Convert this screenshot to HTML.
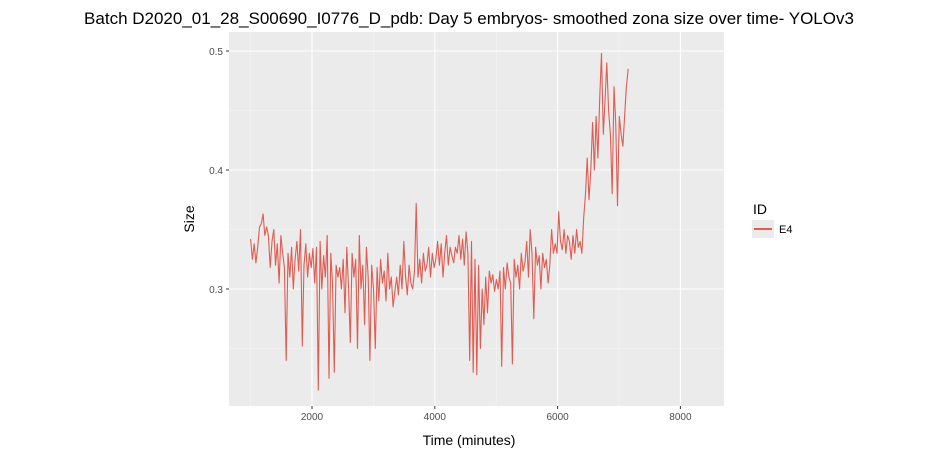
<!DOCTYPE html>
<html><head><meta charset="utf-8"><style>
body{margin:0;background:#fff;font-family:"Liberation Sans","DejaVu Sans",sans-serif;}
</style></head><body>
<svg id="chart" width="938" height="457" xmlns="http://www.w3.org/2000/svg">
<text x="469" y="24" font-size="17" text-anchor="middle" fill="#000">Batch D2020_01_28_S00690_I0776_D_pdb: Day 5 embryos- smoothed zona size over time- YOLOv3</text>
<rect x="229" y="32" width="495" height="374" fill="#ebebeb"/>
<g id="grid"></g>
<g id="series"></g>
<g id="axes"></g>
<text x="469" y="445" font-size="14" text-anchor="middle">Time (minutes)</text>
<text x="194" y="219" font-size="14" text-anchor="middle" transform="rotate(-90 194 219)">Size</text>
<text x="753" y="214" font-size="14">ID</text>
<g>
<rect x="752" y="220" width="22" height="18" fill="#ebebeb"/>
<line x1="754" y1="229" x2="772" y2="229" stroke="#e15b50" stroke-width="2"/>
<text x="779" y="233" font-size="11">E4</text>
</g>
</svg>
<script>
const xTicks=[2000,4000,6000,8000];
const yTicks=[0.3,0.4,0.5];
const tStart=1000, tEnd=7150;
const sizes=[0.342,0.325,0.338,0.322,0.335,0.352,0.355,0.363,0.345,0.352,0.345,0.318,0.34,0.35,0.32,0.338,0.305,0.345,0.33,0.318,0.24,0.33,0.31,0.335,0.3,0.325,0.34,0.315,0.35,0.252,0.32,0.338,0.31,0.33,0.318,0.334,0.305,0.335,0.215,0.34,0.3,0.328,0.31,0.345,0.225,0.33,0.305,0.23,0.32,0.31,0.318,0.3,0.325,0.28,0.335,0.3,0.255,0.33,0.31,0.325,0.25,0.345,0.3,0.32,0.27,0.335,0.31,0.24,0.32,0.3,0.25,0.318,0.29,0.325,0.305,0.315,0.29,0.33,0.3,0.31,0.285,0.298,0.31,0.295,0.32,0.3,0.34,0.31,0.295,0.32,0.305,0.3,0.315,0.372,0.31,0.325,0.305,0.33,0.315,0.32,0.335,0.31,0.33,0.318,0.325,0.34,0.32,0.338,0.31,0.33,0.345,0.32,0.335,0.328,0.322,0.335,0.33,0.345,0.325,0.342,0.32,0.348,0.33,0.24,0.34,0.23,0.325,0.228,0.32,0.25,0.3,0.27,0.31,0.28,0.315,0.305,0.312,0.298,0.308,0.3,0.315,0.235,0.318,0.3,0.322,0.31,0.305,0.237,0.325,0.31,0.32,0.3,0.33,0.315,0.322,0.34,0.31,0.35,0.33,0.275,0.335,0.32,0.328,0.3,0.33,0.318,0.325,0.305,0.32,0.35,0.33,0.338,0.33,0.365,0.34,0.333,0.35,0.33,0.345,0.34,0.325,0.345,0.33,0.35,0.335,0.34,0.33,0.36,0.38,0.41,0.375,0.4,0.44,0.4,0.445,0.41,0.46,0.498,0.43,0.46,0.49,0.45,0.43,0.38,0.47,0.44,0.37,0.445,0.43,0.42,0.445,0.47,0.485];
const X0=229,X1=724,Y0=32,Y1=406;
function sx(t){return 312+(t-2000)*0.0614;}
function sy(v){return 289-(v-0.3)*1190;}
const ns="http://www.w3.org/2000/svg";
const grid=document.getElementById('grid'),axes=document.getElementById('axes'),ser=document.getElementById('series');
function mk(tag,attrs,parent){const e=document.createElementNS(ns,tag);for(const k in attrs)e.setAttribute(k,attrs[k]);parent.appendChild(e);return e;}
for(let i=0;i<xTicks.length;i++){const m=xTicks[i]-1000;if(sx(m)>X0){const g=mk('line',{x1:sx(m),x2:sx(m),y1:Y0,y2:Y1,stroke:'#f5f5f5','stroke-width':0.6},grid);}}
for(let i=0;i<yTicks.length;i++){const m=yTicks[i]-0.05;const g=mk('line',{x1:X0,x2:X1,y1:sy(m),y2:sy(m),stroke:'#f5f5f5','stroke-width':0.6},grid);}
xTicks.forEach(t=>{const x=sx(t);
const g=mk('line',{x1:x,x2:x,y1:Y0,y2:Y1,stroke:'#fff','stroke-width':1.1},grid);


mk('line',{x1:x,x2:x,y1:Y1,y2:Y1+3,stroke:'#333'},axes);
const l=mk('text',{x:x,y:Y1+14,'font-size':10,'text-anchor':'middle',fill:'#4d4d4d'},axes);l.textContent=t;

});
yTicks.forEach(v=>{const y=sy(v);
const g=mk('line',{x1:X0,x2:X1,y1:y,y2:y,stroke:'#fff','stroke-width':1.1},grid);


mk('line',{x1:X0-3,x2:X0,y1:y,y2:y,stroke:'#333'},axes);
const l=mk('text',{x:X0-6,y:y+4,'font-size':10,'text-anchor':'end',fill:'#4d4d4d'},axes);l.textContent=v.toFixed(1);

});
const tStep=(tEnd-tStart)/(sizes.length-1);
const pts=sizes.map((v,i)=>sx(tStart+i*tStep).toFixed(1)+','+sy(v).toFixed(1)).join(' ');
const pl=mk('polyline',{points:pts,fill:'none',stroke:'#e15b50','stroke-width':1.1,'stroke-linejoin':'round'},ser);


</script>
</body></html>
